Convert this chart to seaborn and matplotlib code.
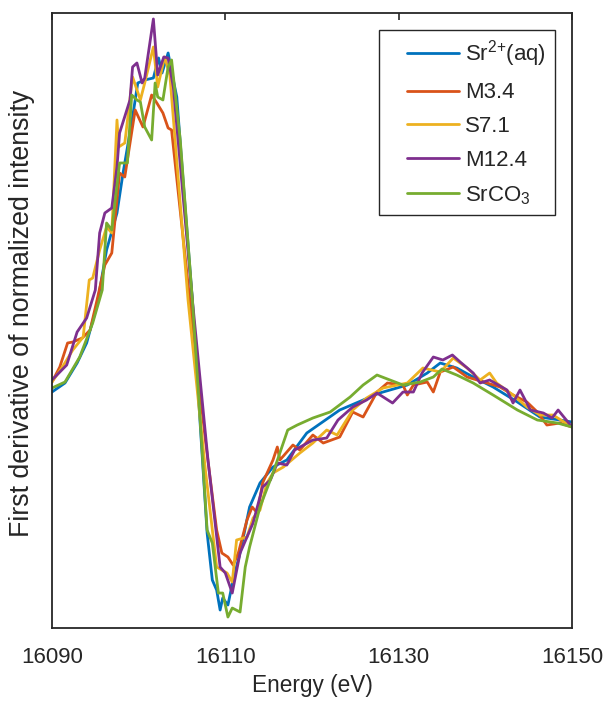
import pandas as pd
import matplotlib
matplotlib.use('Agg')
import matplotlib.pyplot as plt
from matplotlib.legend_handler import HandlerLine2D
from matplotlib.lines import Line2D
import seaborn as sns

# Sr K-edge first-derivative spectra (arb. units)
labels = [r'Sr$^{\mathregular{2{+}}}$(aq)', 'M3.4', 'S7.1', 'M12.4',
          r'SrCO$_{\mathregular{3}}$']
colors = ['#0072BD', '#D95319', '#EDB120', '#7E2F8E', '#77AC30']

aq_e = [16090.0, 16091.5, 16092.9, 16094.0, 16095.2, 16096.3, 16097.5,
        16098.2, 16099.3, 16099.9, 16100.7, 16101.7, 16102.3, 16102.7,
        16103.4, 16104.0, 16104.4, 16105.3, 16106.2, 16107.1, 16107.9,
        16108.5, 16109.0, 16109.4, 16109.7, 16110.3, 16110.9, 16111.7,
        16112.8, 16114.0, 16115.5, 16117.1, 16119.4, 16123.2, 16127.8,
        16131.0, 16133.3, 16134.8, 16136.7, 16138.6, 16140.9, 16143.7,
        16146.3, 16148.6, 16150.0]
aq_d = [0.078, 0.087, 0.107, 0.127, 0.165, 0.220, 0.257, 0.297, 0.353,
        0.387, 0.390, 0.392, 0.412, 0.397, 0.417, 0.390, 0.373, 0.270,
        0.170, 0.046, -0.063, -0.110, -0.120, -0.140, -0.128, -0.135,
        -0.110, -0.083, -0.037, -0.013, 0.003, 0.010, 0.037, 0.060, 0.077,
        0.085, 0.097, 0.107, 0.102, 0.093, 0.083, 0.068, 0.053, 0.050,
        0.048]

m34_e = [16090.0, 16090.9, 16091.8, 16092.4, 16093.5, 16094.4, 16095.2,
         16096.1, 16096.9, 16097.8, 16098.4, 16098.7, 16099.6, 16100.5,
         16101.5, 16102.1, 16102.8, 16103.4, 16103.8, 16105.9, 16107.7,
         16109.0, 16109.6, 16110.3, 16110.9, 16111.5, 16112.5, 16113.1,
         16113.7, 16114.3, 16115.5, 16116.0, 16116.3, 16117.8, 16118.6,
         16120.1, 16121.3, 16123.2, 16124.7, 16125.9, 16127.5, 16128.7,
         16130.5, 16131.0, 16131.7, 16133.3, 16134.0, 16134.8, 16136.3,
         16137.9, 16140.2, 16141.7, 16143.2, 16144.8, 16146.0, 16147.1,
         16148.6, 16150.0]
m34_d = [0.088, 0.103, 0.127, 0.128, 0.132, 0.140, 0.170, 0.205, 0.217,
         0.297, 0.293, 0.310, 0.360, 0.343, 0.375, 0.367, 0.357, 0.342,
         0.340, 0.170, 0.030, -0.060, -0.083, -0.087, -0.095, -0.083,
         -0.050, -0.037, -0.043, -0.013, 0.010, 0.023, 0.010, 0.025, 0.020,
         0.035, 0.027, 0.033, 0.058, 0.053, 0.078, 0.087, 0.085, 0.075,
         0.085, 0.088, 0.078, 0.098, 0.103, 0.093, 0.087, 0.083, 0.075,
         0.068, 0.058, 0.045, 0.047, 0.043]

s71_e = [16090.0, 16091.2, 16092.4, 16093.6, 16094.3, 16094.7, 16095.5,
         16096.3, 16096.9, 16097.5, 16097.7, 16098.4, 16099.3, 16100.2,
         16100.7, 16101.7, 16102.2, 16103.0, 16103.6, 16105.7, 16107.7,
         16109.0, 16110.2, 16110.8, 16111.3, 16112.5, 16113.2, 16114.0,
         16114.8, 16115.5, 16116.7, 16118.6, 16120.1, 16121.7, 16122.9,
         16124.7, 16126.3, 16128.2, 16131.0, 16132.8, 16134.8, 16136.3,
         16137.9, 16139.4, 16140.5, 16141.3, 16143.2, 16144.8, 16146.3,
         16147.8, 16150.0]
s71_d = [0.088, 0.103, 0.120, 0.133, 0.190, 0.192, 0.220, 0.243, 0.237,
         0.350, 0.323, 0.327, 0.393, 0.370, 0.387, 0.423, 0.383, 0.413,
         0.395, 0.170, 0.000, -0.097, -0.103, -0.112, -0.070, -0.067,
         -0.048, -0.040, -0.013, -0.003, 0.003, 0.017, 0.027, 0.040, 0.035,
         0.060, 0.072, 0.082, 0.087, 0.102, 0.098, 0.112, 0.102, 0.090,
         0.097, 0.087, 0.075, 0.063, 0.055, 0.055, 0.043]

m124_e = [16090.0, 16091.7, 16092.9, 16094.0, 16095.0, 16095.5, 16096.1,
          16096.9, 16097.5, 16097.8, 16099.0, 16099.3, 16099.8, 16100.4,
          16100.7, 16101.7, 16102.2, 16102.9, 16103.4, 16104.0, 16106.2,
          16108.0, 16109.4, 16110.0, 16110.8, 16111.7, 16113.2, 16114.3,
          16115.2, 16116.0, 16117.1, 16118.0, 16120.1, 16121.7, 16123.0,
          16124.7, 16126.3, 16127.5, 16129.3, 16130.5, 16131.7, 16132.7,
          16134.0, 16135.1, 16136.2, 16137.1, 16138.6, 16139.4, 16140.5,
          16142.5, 16143.2, 16144.0, 16145.2, 16146.7, 16147.7, 16148.4,
          16150.0]
m124_d = [0.090, 0.105, 0.138, 0.152, 0.180, 0.237, 0.257, 0.262, 0.303,
          0.337, 0.370, 0.403, 0.407, 0.387, 0.392, 0.451, 0.395, 0.413,
          0.412, 0.383, 0.170, 0.010, -0.097, -0.103, -0.123, -0.083,
          -0.053, -0.017, -0.010, 0.007, 0.005, 0.020, 0.030, 0.032, 0.050,
          0.063, 0.070, 0.077, 0.067, 0.078, 0.078, 0.097, 0.113, 0.110,
          0.115, 0.108, 0.097, 0.087, 0.090, 0.080, 0.067, 0.080, 0.060,
          0.057, 0.052, 0.060, 0.043]

co3_e = [16090.0, 16091.5, 16093.2, 16094.7, 16095.8, 16096.3, 16096.9,
         16097.8, 16098.7, 16099.2, 16099.8, 16100.2, 16100.7, 16101.5,
         16101.9, 16102.2, 16102.8, 16103.4, 16103.8, 16104.8, 16106.2,
         16107.1, 16107.9, 16108.5, 16109.2, 16109.7, 16110.3, 16110.8,
         16111.7, 16112.3, 16112.8, 16114.0, 16115.5, 16117.2, 16118.3,
         16120.1, 16122.1, 16124.4, 16125.9, 16127.5, 16129.0, 16130.5,
         16132.5, 16134.0, 16135.0, 16136.7, 16138.6, 16140.9, 16143.7,
         16146.0, 16148.3, 16150.0]
co3_d = [0.082, 0.088, 0.113, 0.147, 0.180, 0.247, 0.240, 0.307, 0.307,
         0.375, 0.370, 0.368, 0.343, 0.330, 0.387, 0.373, 0.370, 0.403,
         0.410, 0.330, 0.170, 0.050, -0.060, -0.073, -0.123, -0.123,
         -0.147, -0.138, -0.142, -0.097, -0.077, -0.037, -0.003, 0.040,
         0.045, 0.052, 0.058, 0.073, 0.085, 0.095, 0.090, 0.085, 0.088,
         0.093, 0.101, 0.095, 0.087, 0.075, 0.060, 0.050, 0.047, 0.043]

energies = [aq_e, m34_e, s71_e, m124_e, co3_e]
derivs = [aq_d, m34_d, s71_d, m124_d, co3_d]

frames = []
for lab, e, d in zip(labels, energies, derivs):
    frames.append(pd.DataFrame({'Energy': e, 'Deriv': d, 'Sample': lab}))
df = pd.concat(frames, ignore_index=True)

sns.set_style('white')
plt.rcParams['font.family'] = ['Liberation Sans', 'DejaVu Sans']
plt.rcParams['mathtext.fontset'] = 'custom'
plt.rcParams['mathtext.rm'] = 'Liberation Sans'

fig = plt.figure(figsize=(6.13, 7.09), dpi=100)
ax = fig.add_axes([0.0848, 0.1142, 0.8483, 0.8675])

sns.lineplot(data=df, x='Energy', y='Deriv', hue='Sample', hue_order=labels,
             palette=colors, estimator=None, sort=False, linewidth=2,
             ax=ax)

ax.set_xlim(16090, 16150)
ax.set_ylim(-0.158, 0.457)
ax.set_xticks([16090, 16110, 16130, 16150])
ax.set_yticks([])
ax.tick_params(axis='x', direction='in', top=True, length=5, width=1.2,
               labelsize=16, pad=14, colors='#262626')
for sp in ax.spines.values():
    sp.set_color('#262626')
    sp.set_linewidth(1.3)

ax.set_xlabel('Energy (eV)', fontsize=16.3, color='#262626', labelpad=4)
ax.set_ylabel('First derivative of normalized intensity', fontsize=19.3,
              color='#262626')
ax.yaxis.set_label_coords(-0.033, 0.511)

handles, labs = ax.get_legend_handles_labels()
leg = ax.legend(handles, labs, loc='upper right', fontsize=16, frameon=True,
                fancybox=False, framealpha=1, edgecolor='#262626',
                borderaxespad=0.75, labelspacing=0.58, handlelength=3.2,
                handletextpad=0.3, borderpad=0.4,
                handler_map={Line2D: HandlerLine2D(xpad=0.85)})
leg.get_frame().set_linewidth(1.0)

fig.savefig('out.png', dpi=100)
